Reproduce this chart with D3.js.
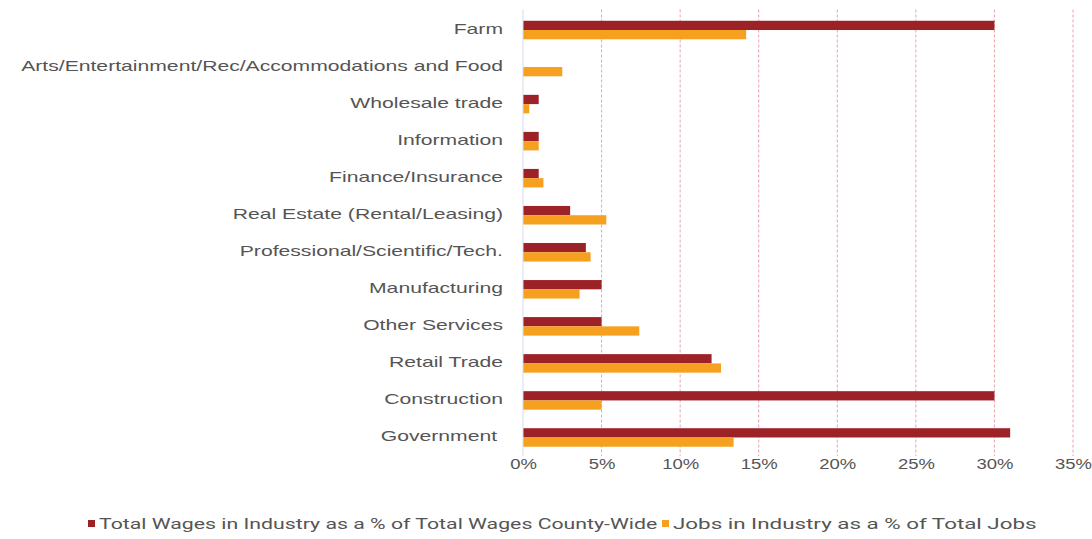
<!DOCTYPE html>
<html>
<head>
<meta charset="utf-8">
<script src="https://cdn.jsdelivr.net/npm/d3@7"></script>
<style>
  body { margin: 0; background: #fff; }
  svg { display: block; font-family: Roboto, "Noto Sans", sans-serif; }
  text { white-space: pre; }
</style>
</head>
<body>
<svg id="chart" width="1092" height="539"></svg>
<script>
// Industries, listed top to bottom
const industries = [
  "Farm",
  "Arts/Entertainment/Rec/Accommodations and Food",
  "Wholesale trade",
  "Information",
  "Finance/Insurance",
  "Real Estate (Rental/Leasing)",
  "Professional/Scientific/Tech.",
  "Manufacturing",
  "Other Services",
  "Retail Trade",
  "Construction",
  "Government "
];
// Total wages in industry as a % of total wages county-wide
const wagesShare = [30, 0, 1, 1, 1, 3, 4, 5, 5, 12, 30, 31];
// Jobs in industry as a % of total jobs
const jobsShare = [14.2, 2.5, 0.4, 1, 1.3, 5.3, 4.3, 3.6, 7.4, 12.6, 5, 13.4];
const xTicks = [0, 5, 10, 15, 20, 25, 30, 35];
const seriesNames = [
  "Total Wages in Industry as a % of Total Wages County-Wide",
  "Jobs in Industry as a % of Total Jobs"
];
const seriesColors = ["#9c2227", "#f5a01e"];

const svg = d3.select("#chart");
const margin = { left: 523, right: 19, top: 11.5, bottom: 83 };
const W = 1092, H = 539;

const x = d3.scaleLinear().domain([0, 35]).range([margin.left, W - margin.right]);
const y = d3.scaleBand().domain(industries).range([margin.top, H - margin.bottom]).paddingInner(0.5).paddingOuter(0.25);
const sub = d3.scaleBand().domain([0, 1]).range([0, y.bandwidth()]);

// Vertical dashed gridlines
svg.append("g").selectAll("line").data(xTicks.slice(1)).join("line")
  .attr("x1", d => x(d)).attr("x2", d => x(d))
  .attr("y1", margin.top - 2).attr("y2", H - margin.bottom)
  .attr("stroke", "#e9a3aa").attr("stroke-width", 1)
  .attr("stroke-dasharray", "3,2");

// Bars
const rows = industries.map((name, i) => ({ name, vals: [wagesShare[i], jobsShare[i]] }));
const g = svg.append("g").selectAll("g").data(rows).join("g")
  .attr("transform", d => `translate(0,${y(d.name)})`);
g.selectAll("rect").data(d => d.vals.map((v, k) => ({ v, k }))).join("rect")
  .attr("x", x(0))
  .attr("y", d => sub(d.k))
  .attr("width", d => x(d.v) - x(0))
  .attr("height", sub.bandwidth())
  .attr("fill", d => seriesColors[d.k]);

// Zero baseline
svg.append("line")
  .attr("x1", x(0)).attr("x2", x(0))
  .attr("y1", margin.top - 2).attr("y2", H - margin.bottom)
  .attr("stroke", "#d5dbe6").attr("stroke-width", 1);

// Category axis (wide lettering)
const yAxis = d3.axisLeft(y).tickSize(0).tickPadding(0);
svg.append("g").attr("transform", `translate(${x(0)},0)`).call(yAxis)
  .call(a => a.select(".domain").remove())
  .selectAll("text")
  .attr("x", 0)
  .attr("transform", "translate(-20,-1) scale(1.41,1)")
  .attr("fill", "#555").attr("font-size", 15);

// Percentage axis
const xAxis = d3.axisBottom(x).tickValues(xTicks).tickFormat(d => d + "%").tickSize(0).tickPadding(0);
svg.append("g").attr("transform", `translate(0,${H - margin.bottom})`).call(xAxis)
  .call(a => a.select(".domain").remove())
  .selectAll("text")
  .attr("y", 0)
  .attr("transform", "translate(0,3) scale(1.32,1)")
  .attr("fill", "#555").attr("font-size", 14);

// Legend
const legend = svg.append("g").attr("transform", "translate(0,524)");
const legendX = [88, 662];
const legendStretch = [1.52, 1.6];
seriesNames.forEach((name, k) => {
  legend.append("rect").attr("x", legendX[k]).attr("y", -4).attr("width", 7).attr("height", 7).attr("fill", seriesColors[k]);
  legend.append("text")
    .attr("transform", `translate(${legendX[k] + 11},0) scale(${legendStretch[k]},1)`)
    .attr("dy", "0.35em")
    .attr("fill", "#555").attr("font-size", 14).text(name);
});
</script>
</body>
</html>
